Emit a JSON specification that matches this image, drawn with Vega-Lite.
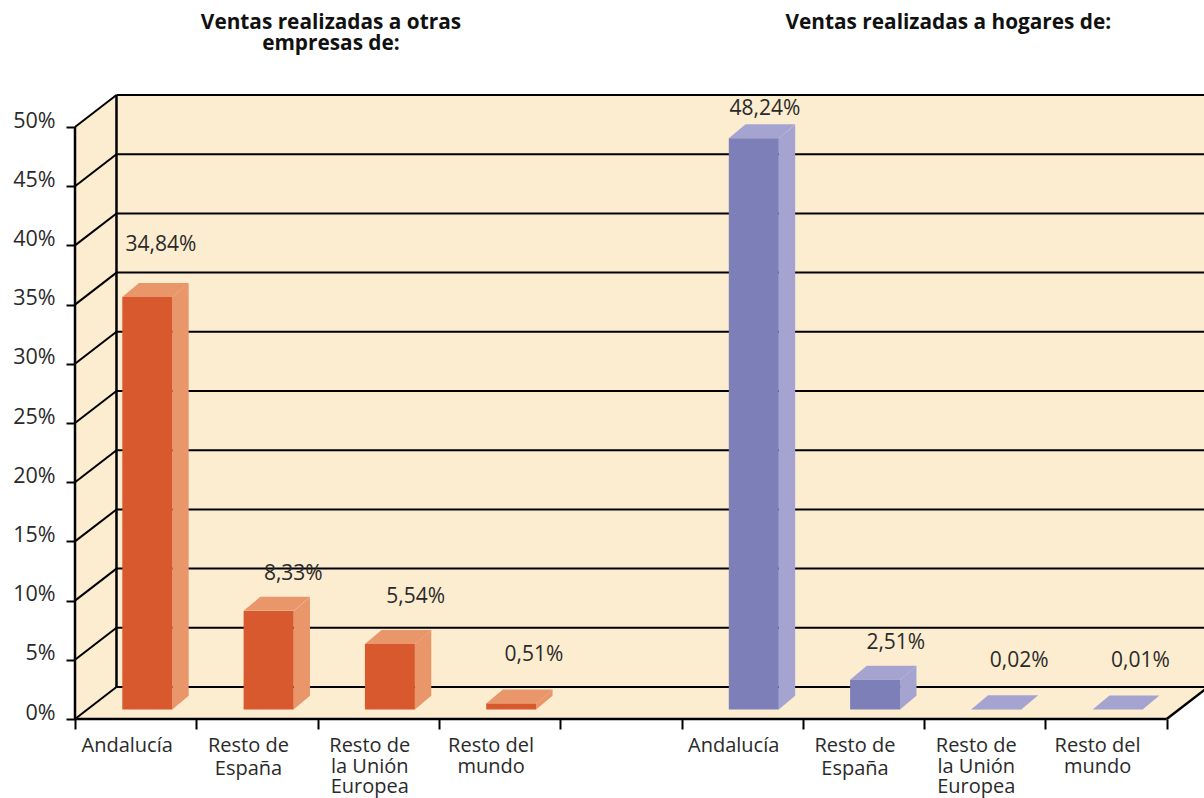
{
"$schema":"https://vega.github.io/schema/vega-lite/v6.json",
"width":1129,"height":592,
"padding":{"left":75,"top":127,"right":0,"bottom":79},
"autosize":{"type":"none"},
"background":"#ffffff",
"config":{"view":{"stroke":null},"text":{"font":"Open Sans","fontSize":20,"fill":"#2a2a2a"},"axis":{"grid":false}},
"datasets":{
"barras":[
{"grupo":"empresas","categoria":"Andalucía","etiqueta":"Andalucía","slot":0,"valor":34.84,"texto":"34,84%"},
{"grupo":"empresas","categoria":"Resto de España","etiqueta":"Resto de\nEspaña","slot":1,"valor":8.33,"texto":"8,33%"},
{"grupo":"empresas","categoria":"Resto de la Unión Europea","etiqueta":"Resto de\nla Unión\nEuropea","slot":2,"valor":5.54,"texto":"5,54%"},
{"grupo":"empresas","categoria":"Resto del mundo","etiqueta":"Resto del\nmundo","slot":3,"valor":0.51,"texto":"0,51%"},
{"grupo":"hogares","categoria":"Andalucía","etiqueta":"Andalucía","slot":5,"valor":48.24,"texto":"48,24%"},
{"grupo":"hogares","categoria":"Resto de España","etiqueta":"Resto de\nEspaña","slot":6,"valor":2.51,"texto":"2,51%"},
{"grupo":"hogares","categoria":"Resto de la Unión Europea","etiqueta":"Resto de\nla Unión\nEuropea","slot":7,"valor":0.02,"texto":"0,02%"},
{"grupo":"hogares","categoria":"Resto del mundo","etiqueta":"Resto del\nmundo","slot":8,"valor":0.01,"texto":"0,01%"}
],
"marcas":[{"t":0},{"t":5},{"t":10},{"t":15},{"t":20},{"t":25},{"t":30},{"t":35},{"t":40},{"t":45},{"t":50}]
},
"layer":[
{"data":{"values":[{}]},"mark":{"type":"rect","fill":"#FCEDD0"},
 "encoding":{"x":{"datum":0.342,"type":"quantitative","scale":{"domain":[0,9.3075],"nice":false,"zero":false},"axis":{"values":[0,1,2,3,4,5,6,7,8,9],"labels":false,"title":null,"domain":false,"tickSize":10,"tickWidth":2,"tickColor":"#000000"}},
 "x2":{"datum":9.3075},
 "y":{"datum":2.7,"type":"quantitative","scale":{"domain":[0,50],"nice":false,"zero":false},"axis":{"values":[0,5,10,15,20,25,30,35,40,45,50],"labelExpr":"datum.value+'%'","title":null,"domain":false,"tickSize":9,"tickWidth":2,"tickColor":"#000000","labelFont":"Open Sans","labelFontSize":21.5,"labelColor":"#2a2a2a","labelPadding":11,"labelOffset":-6}},
 "y2":{"datum":52.7}}},
{"data":{"values":[{"x":0,"y":0,"y2":50},{"x":0.342,"y":2.7,"y2":52.7}]},"mark":{"type":"area","fill":"#FCEDD0"},
 "encoding":{"x":{"field":"x","type":"quantitative"},"y":{"field":"y","type":"quantitative"},"y2":{"field":"y2"}}},
{"data":{"values":[{"x":0,"y":0,"y2":0},{"x":0.342,"y":2.7,"y2":0},{"x":9,"y":2.7,"y2":0},{"x":9.3075,"y":2.7,"y2":2.43}]},"mark":{"type":"area","fill":"#FCEDD0"},
 "encoding":{"x":{"field":"x","type":"quantitative"},"y":{"field":"y","type":"quantitative"},"y2":{"field":"y2"}}},
{"data":{"name":"marcas"},"mark":{"type":"rule","stroke":"#000000","strokeWidth":2,"yOffset":-32,"y2Offset":-32},
 "encoding":{"x":{"datum":0.342,"type":"quantitative"},"x2":{"datum":9.3075},"y":{"field":"t","type":"quantitative"}}},
{"data":{"name":"marcas"},"transform":[{"calculate":"datum.t+2.7","as":"fondo"}],"mark":{"type":"rule","stroke":"#000000","strokeWidth":2},
 "encoding":{"x":{"datum":0,"type":"quantitative"},"x2":{"datum":0.342},"y":{"field":"t","type":"quantitative"},"y2":{"field":"fondo"}}},
{"data":{"values":[{"x":0,"x2":0,"y":0,"y2":50},{"x":0.342,"x2":0.342,"y":2.7,"y2":52.7},{"x":0,"x2":9,"y":0,"y2":0},{"x":9,"x2":9.342,"y":0,"y2":2.7}]},"mark":{"type":"rule","stroke":"#000000","strokeWidth":2.5},
 "encoding":{"x":{"field":"x","type":"quantitative"},"x2":{"field":"x2"},"y":{"field":"y","type":"quantitative"},"y2":{"field":"y2"}}},
{"data":{"name":"barras"},
 "transform":[{"calculate":"datum.slot+0.39+0.412","as":"frente"},{"calculate":"datum.slot+0.39+0.412+0.135","as":"detras"},{"fold":["frente","detras"],"as":["cara","xs"]},{"calculate":"datum.cara=='detras'?1.16:0","as":"sube"},{"calculate":"datum.valor+0.8+datum.sube","as":"arriba"},{"calculate":"0.8+datum.sube","as":"abajo"}],
 "mark":{"type":"area"},
 "encoding":{"x":{"field":"xs","type":"quantitative"},"y":{"field":"arriba","type":"quantitative"},"y2":{"field":"abajo"},"detail":{"field":"slot"},
 "fill":{"condition":{"test":"datum.grupo=='empresas'","value":"#E8966A"},"value":"#A5A4D1"}}},
{"data":{"name":"barras"},
 "mark":{"type":"point","filled":true,"opacity":1,"size":4,"strokeWidth":0,"shape":"M47.3,-9.5L64,-23.5L114,-23.5L97.3,-9.5Z"},
 "encoding":{"x":{"field":"slot","type":"quantitative"},"y":{"field":"valor","type":"quantitative"},
 "fill":{"condition":{"test":"datum.grupo=='empresas'","value":"#E8966A"},"value":"#A5A4D1"}}},
{"data":{"name":"barras"},
 "transform":[{"calculate":"datum.slot+0.39","as":"x0"},{"calculate":"datum.slot+0.39+0.412","as":"x1"},{"calculate":"datum.valor+0.8","as":"arriba"},{"calculate":"0.8","as":"abajo"}],
 "mark":{"type":"rect"},
 "encoding":{"x":{"field":"x0","type":"quantitative"},"x2":{"field":"x1"},"y":{"field":"arriba","type":"quantitative"},"y2":{"field":"abajo"},
 "fill":{"condition":{"test":"datum.grupo=='empresas'","value":"#D9592E"},"value":"#7D7FB8"}}},
{"data":{"name":"barras"},"transform":[{"filter":"datum.valor==34.84"}],"mark":{"type":"text","fontSize":21,"xOffset":86,"yOffset":-61},
 "encoding":{"x":{"field":"slot","type":"quantitative"},"y":{"field":"valor","type":"quantitative"},"text":{"field":"texto"}}},
{"data":{"name":"barras"},"transform":[{"filter":"datum.valor==8.33"}],"mark":{"type":"text","fontSize":21,"xOffset":97,"yOffset":-46.5},
 "encoding":{"x":{"field":"slot","type":"quantitative"},"y":{"field":"valor","type":"quantitative"},"text":{"field":"texto"}}},
{"data":{"name":"barras"},"transform":[{"filter":"datum.valor==5.54"}],"mark":{"type":"text","fontSize":21,"xOffset":98,"yOffset":-56.5},
 "encoding":{"x":{"field":"slot","type":"quantitative"},"y":{"field":"valor","type":"quantitative"},"text":{"field":"texto"}}},
{"data":{"name":"barras"},"transform":[{"filter":"datum.valor<1"}],"mark":{"type":"text","fontSize":21,"xOffset":95,"yOffset":-57.5},
 "encoding":{"x":{"field":"slot","type":"quantitative"},"y":{"field":"valor","type":"quantitative"},"text":{"field":"texto"}}},
{"data":{"name":"barras"},"transform":[{"filter":"datum.valor==48.24"}],"mark":{"type":"text","fontSize":21,"xOffset":83.5,"yOffset":-39},
 "encoding":{"x":{"field":"slot","type":"quantitative"},"y":{"field":"valor","type":"quantitative"},"text":{"field":"texto"}}},
{"data":{"name":"barras"},"transform":[{"filter":"datum.valor==2.51"}],"mark":{"type":"text","fontSize":21,"xOffset":93,"yOffset":-46},
 "encoding":{"x":{"field":"slot","type":"quantitative"},"y":{"field":"valor","type":"quantitative"},"text":{"field":"texto"}}},
{"data":{"name":"barras"},"transform":[{"filter":"datum.categoria!='Resto de España'"},{"calculate":"datum.slot+0.43","as":"centro"}],
 "mark":{"type":"text","baseline":"top","align":"center","lineBreak":"\n","lineHeight":20.5,"yOffset":17},
 "encoding":{"x":{"field":"centro","type":"quantitative"},"y":{"datum":0,"type":"quantitative"},"text":{"field":"etiqueta"}}},
{"data":{"name":"barras"},"transform":[{"filter":"datum.categoria=='Resto de España'"},{"calculate":"datum.slot+0.43","as":"centro"}],
 "mark":{"type":"text","baseline":"top","align":"center","lineBreak":"\n","lineHeight":23,"yOffset":17},
 "encoding":{"x":{"field":"centro","type":"quantitative"},"y":{"datum":0,"type":"quantitative"},"text":{"field":"etiqueta"}}},
{"data":{"values":[{"titulo":"Ventas realizadas a otras\nempresas de:","x":2.11,"y":59.65},{"titulo":"Ventas realizadas a hogares de:","x":7.2,"y":59.65}]},
 "mark":{"type":"text","baseline":"top","align":"center","lineBreak":"\n","lineHeight":21,"fontWeight":"bold","font":"Open Sans","fontSize":20.8,"fill":"#111111"},
 "encoding":{"x":{"field":"x","type":"quantitative"},"y":{"field":"y","type":"quantitative"},"text":{"field":"titulo"}}}
]
}
